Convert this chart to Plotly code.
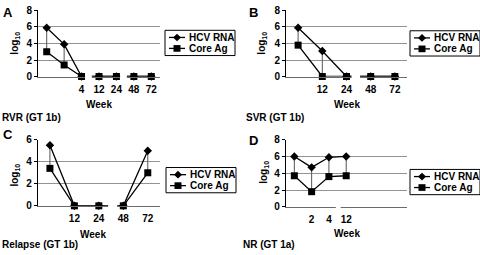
import plotly.graph_objects as go

W, H = 480, 255

# ---------------- data ----------------
weeks_A = ["", "", "4", "12", "24", "48", "72"]
hcv_A = [5.9, 3.9, 0, 0, 0, 0, 0]
core_A = [3.0, 1.4, 0, 0, 0, 0, 0]

weeks_B = ["", "12", "24", "48", "72"]
hcv_B = [5.9, 3.1, 0, 0, 0]
core_B = [3.8, 0, 0, 0, 0]

weeks_C = ["", "12", "24", "48", "72"]
hcv_C = [5.5, 0, 0, 0, 5.0]
core_C = [3.4, 0, 0, 0, 3.0]

weeks_D = ["", "2", "4", "12", "", "", ""]
hcv_D = [6.0, 4.7, 5.9, 6.0]
core_D = [3.7, 1.8, 3.6, 3.7]

y_ticks_8 = [0, 2, 4, 6, 8]
y_ticks_6 = [0, 2, 4, 6]

series_names = ["HCV RNA", "Core Ag"]
panel_letters = ["A", "B", "C", "D"]
captions = ["RVR (GT 1b)", "SVR (GT 1b)", "Relapse (GT 1b)", "NR (GT 1a)"]
x_title = "Week"
y_title = "log<sub>10</sub>"

# ---------------- layout geometry (pixels) ----------------
geom = [
    dict(box=(38, 4.7, 160, 74), gaps=[(2.2, 2.59), (4.21, 4.6)],
         letter=(1, 7), ytitle=(15, 39.5), xtitle=(99, 103), cap=(0, 116.5), leg=(165, 25.5)),
    dict(box=(286, 4.7, 407, 74), gaps=[(2.21, 2.56)],
         letter=(247, 7), ytitle=(262, 39.5), xtitle=(347, 103), cap=(244, 116.5), leg=(410, 26)),
    dict(box=(37.7, 140.3, 160, 209.7), gaps=[(2.38, 2.75)],
         letter=(1, 135), ytitle=(15, 178), xtitle=(93, 239.5), cap=(0, 250.5), leg=(166, 169.5)),
    dict(box=(285.7, 140.3, 406.7, 210.7), gaps=[(2.4, 2.68)],
         letter=(247, 141), ytitle=(264, 175), xtitle=(347, 238.5), cap=(241, 250.5), leg=(410, 171.5)),
]

datasets = [
    (weeks_A, hcv_A, core_A, y_ticks_8),
    (weeks_B, hcv_B, core_B, y_ticks_8),
    (weeks_C, hcv_C, core_C, y_ticks_6),
    (weeks_D, hcv_D, core_D, y_ticks_8),
]

FONT = "Liberation Sans, Arial, Helvetica, sans-serif"
fig = go.Figure()
annotations = []
shapes = []


def px(xp):
    return xp / W


def py(yp):
    return 1 - yp / H


for i, ((weeks, hcv, core, yt), g) in enumerate(zip(datasets, geom)):
    n = i + 1
    xa = "x" if n == 1 else f"x{n}"
    ya = "y" if n == 1 else f"y{n}"
    l, t, r, b = g["box"]
    ncat = len(weeks)
    idx = list(range(len(hcv)))

    # high-low lines
    hx, hy = [], []
    for k in idx:
        hx += [k, k, None]
        hy += [hcv[k], core[k], None]
    fig.add_trace(go.Scatter(x=hx, y=hy, mode="lines", xaxis=xa, yaxis=ya,
                             line=dict(color="#555555", width=1), showlegend=False,
                             hoverinfo="skip"))
    fig.add_trace(go.Scatter(x=idx, y=hcv, mode="lines+markers", name=series_names[0],
                             xaxis=xa, yaxis=ya, cliponaxis=False, showlegend=False,
                             line=dict(color="black", width=1.3),
                             marker=dict(symbol="diamond", size=6.5, color="black")))
    fig.add_trace(go.Scatter(x=idx, y=core, mode="lines+markers", name=series_names[1],
                             xaxis=xa, yaxis=ya, cliponaxis=False, showlegend=False,
                             line=dict(color="black", width=1.3),
                             marker=dict(symbol="square", size=7, color="black")))

    shown = [k for k, w in enumerate(weeks) if w.strip()]
    xkey = "xaxis" if n == 1 else f"xaxis{n}"
    ykey = "yaxis" if n == 1 else f"yaxis{n}"
    fig.layout[xkey] = dict(domain=[px(l), px(r)], range=[-0.5, ncat - 0.5], anchor=ya,
                            tickmode="array", tickvals=shown,
                            ticktext=[weeks[k] for k in shown],
                            showgrid=False, zeroline=False, showline=True,
                            linecolor="#6a6a6a", linewidth=1,
                            ticks="outside", ticklen=3, tickcolor="rgba(0,0,0,0)",
                            tickfont=dict(family=FONT, size=10, color="black", weight="bold"),
                            fixedrange=True)
    fig.layout[ykey] = dict(domain=[py(b), py(t)], range=[0, yt[-1]], anchor=xa,
                            tickmode="array", tickvals=yt, showgrid=True,
                            gridcolor="#939393", gridwidth=1, zeroline=False,
                            showline=True, linecolor="black", linewidth=1,
                            ticks="outside", ticklen=3, tickcolor="black",
                            tickfont=dict(family=FONT, size=10, color="black", weight="bold"),
                            fixedrange=True)

    # axis breaks (white gaps on the baseline)
    cw = (r - l) / ncat
    for g0, g1 in g["gaps"]:
        x0 = l + (g0 + 0.5) * cw
        x1 = l + (g1 + 0.5) * cw
        shapes.append(dict(type="rect", xref="paper", yref="paper",
                           x0=px(x0), x1=px(x1), y0=py(b + 3), y1=py(b - 3),
                           fillcolor="white", line=dict(width=0), layer="above"))

    # texts
    annotations.append(dict(text=f"<b>{panel_letters[i]}</b>", x=px(g["letter"][0]),
                            y=py(g["letter"][1]), xref="paper", yref="paper",
                            xanchor="left", yanchor="middle", showarrow=False,
                            font=dict(family=FONT, size=13, color="black")))
    annotations.append(dict(text=f"<b>{y_title}</b>", x=px(g["ytitle"][0]),
                            y=py(g["ytitle"][1]), xref="paper", yref="paper",
                            xanchor="center", yanchor="middle", showarrow=False,
                            textangle=-90, font=dict(family=FONT, size=10, color="black")))
    annotations.append(dict(text=f"<b>{x_title}</b>", x=px(g["xtitle"][0]),
                            y=py(g["xtitle"][1]), xref="paper", yref="paper",
                            xanchor="center", yanchor="middle", showarrow=False,
                            font=dict(family=FONT, size=10, color="black")))
    annotations.append(dict(text=f"<b>{captions[i]}</b>", x=px(g["cap"][0]),
                            y=py(g["cap"][1]), xref="paper", yref="paper",
                            xanchor="left", yanchor="middle", showarrow=False,
                            font=dict(family=FONT, size=10, color="black")))

    # manual legend drawn with shapes
    lx, ly = g["leg"]
    bw, bh = 70, 26.5
    shapes.append(dict(type="rect", xref="paper", yref="paper",
                       x0=px(lx), x1=px(lx + bw), y0=py(ly + bh), y1=py(ly),
                       line=dict(color="black", width=1), fillcolor="rgba(0,0,0,0)",
                       layer="above"))
    rows = [ly + 7.5, ly + 19]
    for name, sym, ry in zip(series_names, ["diamond", "square"], rows):
        shapes.append(dict(type="line", xref="paper", yref="paper",
                           x0=px(lx + 4), x1=px(lx + 20), y0=py(ry), y1=py(ry),
                           line=dict(color="black", width=1.3), layer="above"))
        cx = lx + 12
        if sym == "square":
            s = 3.5
            shapes.append(dict(type="rect", xref="paper", yref="paper",
                               x0=px(cx - s), x1=px(cx + s), y0=py(ry + s), y1=py(ry - s),
                               fillcolor="black", line=dict(width=0), layer="above"))
        else:
            s = 4
            path = (f"M {px(cx - s)},{py(ry)} L {px(cx)},{py(ry - s)} "
                    f"L {px(cx + s)},{py(ry)} L {px(cx)},{py(ry + s)} Z")
            shapes.append(dict(type="path", xref="paper", yref="paper", path=path,
                               fillcolor="black", line=dict(width=0), layer="above"))
        annotations.append(dict(text=f"<b>{name}</b>", x=px(lx + 22), y=py(ry),
                                xref="paper", yref="paper", xanchor="left",
                                yanchor="middle", showarrow=False,
                                font=dict(family=FONT, size=10, color="black")))

fig.update_layout(width=W, height=H, margin=dict(l=0, r=0, t=0, b=0),
                  paper_bgcolor="white", plot_bgcolor="rgba(0,0,0,0)", showlegend=False,
                  annotations=annotations, shapes=shapes,
                  font=dict(family=FONT, size=10, color="black"))

fig.write_html("out.html", config={"displayModeBar": False},
               post_script="document.body.style.margin='0px';"
                           "document.body.style.overflow='hidden';")
